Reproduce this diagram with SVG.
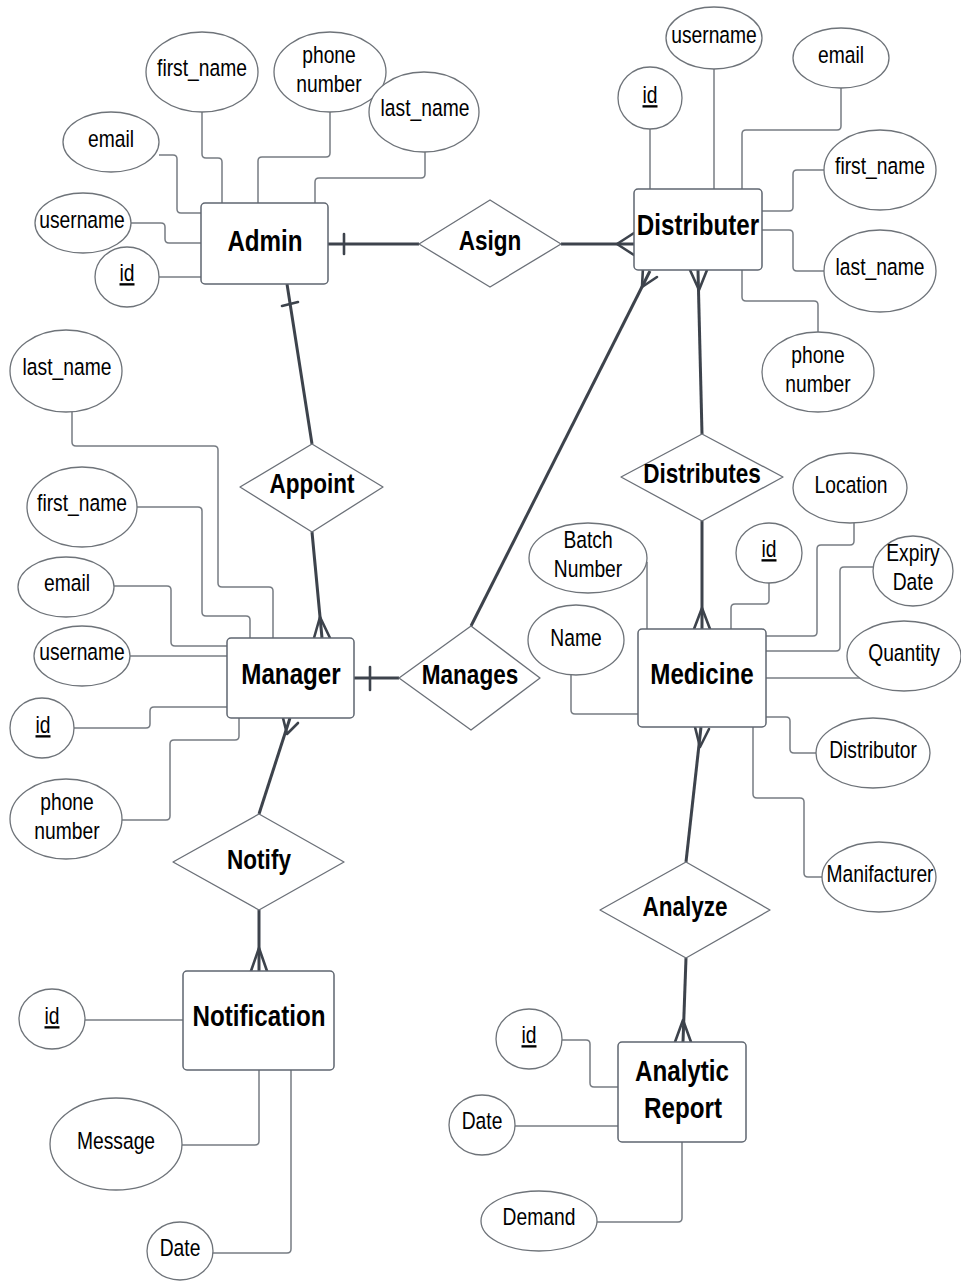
<svg xmlns="http://www.w3.org/2000/svg" width="961" height="1281" viewBox="0 0 961 1281">
  <style>
    .ent { fill: #ffffff; stroke: #5f6670; stroke-width: 1.5; }
    .rel { fill: #ffffff; stroke: #6b7078; stroke-width: 1.3; stroke-linejoin: round; }
    .att { fill: #ffffff; stroke: #6e7379; stroke-width: 1.3; }
    .aline { fill: none; stroke: #777c83; stroke-width: 1.5; }
    .rline { fill: none; stroke: #3d434c; stroke-width: 3; stroke-linecap: butt; }
    .foot { fill: none; stroke: #3d434c; stroke-width: 2.6; stroke-linecap: round; stroke-linejoin: round; }
    text { font-family: "Liberation Sans Narrow", "Liberation Sans", Arial, sans-serif; text-anchor: middle; fill: #000000; }
    .t { font-size: 23.5px; }
    .te { font-size: 29.5px; font-weight: bold; }
    .tr { font-size: 27.5px; font-weight: bold; }
    .key { text-decoration: underline; }
  </style>

  <!-- connectors -->
  <g id="connectors">
    <!-- attribute links: Admin -->
    <path class="aline" d="M159,155 H173 Q177,155 177,159 V209 Q177,213 181,213 H201"/>
    <path class="aline" d="M202,112 V154 Q202,158 206,158 H218 Q222,158 222,162 V203"/>
    <path class="aline" d="M330,112 V153 Q330,157 326,157 H262 Q258,157 258,161 V203"/>
    <path class="aline" d="M425,152 V174 Q425,178 421,178 H319 Q315,178 315,182 V203"/>
    <path class="aline" d="M130,223 H161 Q165,223 165,227 V239 Q165,243 169,243 H201"/>
    <path class="aline" d="M159,277 H201"/>
    <!-- attribute links: Distributer -->
    <path class="aline" d="M650,129 V189"/>
    <path class="aline" d="M714,69 V189"/>
    <path class="aline" d="M841,88 V126 Q841,130 837,130 H746 Q742,130 742,134 V189"/>
    <path class="aline" d="M824,170 H797 Q793,170 793,174 V207 Q793,211 789,211 H762"/>
    <path class="aline" d="M824,271 H797 Q793,271 793,267 V234 Q793,230 789,230 H762"/>
    <path class="aline" d="M818,332 V305 Q818,301 814,301 H746 Q742,301 742,297 V270"/>
    <!-- attribute links: Manager -->
    <path class="aline" d="M72,412 V442 Q72,446 76,446 H214 Q218,446 218,450 V583 Q218,587 222,587 H269 Q273,587 273,591 V638"/>
    <path class="aline" d="M137,507 H198 Q202,507 202,511 V612 Q202,616 206,616 H246 Q250,616 250,620 V638"/>
    <path class="aline" d="M114,586 H167 Q171,586 171,590 V642 Q171,646 175,646 H227"/>
    <path class="aline" d="M130,656 H227"/>
    <path class="aline" d="M74,728 H146 Q150,728 150,724 V711 Q150,707 154,707 H227"/>
    <path class="aline" d="M122,820 H166 Q170,820 170,816 V744 Q170,740 174,740 H235 Q239,740 239,736 V718"/>
    <!-- attribute links: Medicine -->
    <path class="aline" d="M647,562 V629"/>
    <path class="aline" d="M571,675 V710 Q571,714 575,714 H638"/>
    <path class="aline" d="M769,583 V600 Q769,604 765,604 H735 Q731,604 731,608 V629"/>
    <path class="aline" d="M854,523 V541 Q854,545 850,545 H821 Q817,545 817,549 V632 Q817,636 813,636 H766"/>
    <path class="aline" d="M873,567 H844 Q840,567 840,571 V647 Q840,651 836,651 H766"/>
    <path class="aline" d="M862,678 H766"/>
    <path class="aline" d="M766,717 H786 Q790,717 790,721 V749 Q790,753 794,753 H816"/>
    <path class="aline" d="M753,727 V794 Q753,798 757,798 H800 Q804,798 804,802 V873 Q804,877 808,877 H822"/>
    <!-- attribute links: Analytic Report -->
    <path class="aline" d="M562,1040 H586 Q590,1040 590,1044 V1083 Q590,1087 594,1087 H618"/>
    <path class="aline" d="M515,1126 H618"/>
    <path class="aline" d="M597,1222 H678 Q682,1222 682,1218 V1142"/>
    <!-- attribute links: Notification -->
    <path class="aline" d="M85,1020 H183"/>
    <path class="aline" d="M182,1145 H255 Q259,1145 259,1141 V1070"/>
    <path class="aline" d="M212,1253 H287 Q291,1253 291,1249 V1070"/>

    <!-- relationship links -->
    <!-- Admin - Asign (one) -->
    <path class="rline" d="M328,244 H419"/>
    <path class="foot" d="M344,234 V254"/>
    <!-- Asign - Distributer (many) -->
    <path class="rline" d="M561,244 H634"/>
    <path class="foot" d="M634,233 L617,244 L634,255"/>
    <!-- Admin - Appoint (one) -->
    <path class="rline" d="M287,284 L312,444"/>
    <path class="foot" d="M282,306 L298,302"/>
    <!-- Appoint - Manager (many) -->
    <path class="rline" d="M312,532 L322,638"/>
    <path class="foot" d="M314,638 L320,617 L330,638"/>
    <!-- Manager - Manages (one) -->
    <path class="rline" d="M354,678 H399"/>
    <path class="foot" d="M370,667 V690"/>
    <!-- Manages - Distributer (many) -->
    <path class="rline" d="M471,626 L650,271"/>
    <path class="foot" d="M643,267 L642,287 L657,277"/>
    <!-- Distributes - Distributer (many) -->
    <path class="rline" d="M702,434 L698,270"/>
    <path class="foot" d="M690,270 L699,290 L707,270"/>
    <!-- Distributes - Medicine (many) -->
    <path class="rline" d="M702,521 V629"/>
    <path class="foot" d="M694,629 L702,608 L710,629"/>
    <!-- Medicine - Analyze (many) -->
    <path class="rline" d="M686,862 L701,727"/>
    <path class="foot" d="M695,727 L700,747 L709,729"/>
    <!-- Analyze - Analytic Report (many) -->
    <path class="rline" d="M686,958 L683,1042"/>
    <path class="foot" d="M675,1042 L683,1020 L691,1042"/>
    <!-- Manager - Notify (many) -->
    <path class="rline" d="M259,814 L290,718"/>
    <path class="foot" d="M283,718 L287,734 L298,723"/>
    <!-- Notify - Notification (many) -->
    <path class="rline" d="M259,910 V971"/>
    <path class="foot" d="M251,971 L259,948 L267,971"/>
  </g>

  <!-- entities (labels set in a narrow face by horizontal scaling) -->
  <g id="admin">
    <rect class="ent" x="201" y="203" width="127" height="81" rx="4"/>
    <text class="te" transform="translate(265 251) scale(0.82 1)">Admin</text>
  </g>
  <g id="distributer">
    <rect class="ent" x="634" y="189" width="128" height="81" rx="4"/>
    <text class="te" transform="translate(698 235) scale(0.82 1)">Distributer</text>
  </g>
  <g id="manager">
    <rect class="ent" x="227" y="638" width="127" height="80" rx="4"/>
    <text class="te" transform="translate(291 684) scale(0.82 1)">Manager</text>
  </g>
  <g id="medicine">
    <rect class="ent" x="638" y="629" width="128" height="98" rx="4"/>
    <text class="te" transform="translate(702 684) scale(0.82 1)">Medicine</text>
  </g>
  <g id="notification">
    <rect class="ent" x="183" y="971" width="151" height="99" rx="4"/>
    <text class="te" transform="translate(259 1026) scale(0.82 1)">Notification</text>
  </g>
  <g id="analytic-report">
    <rect class="ent" x="618" y="1042" width="128" height="100" rx="4"/>
    <text class="te" transform="translate(682 1081) scale(0.82 1)">Analytic</text>
    <text class="te" transform="translate(683 1118) scale(0.82 1)">Report</text>
  </g>

  <!-- relationships -->
  <g id="asign">
    <polygon class="rel" points="419,244 490,200 561,244 490,287"/>
    <text class="tr" transform="translate(490 250) scale(0.82 1)">Asign</text>
  </g>
  <g id="appoint">
    <polygon class="rel" points="240,487 312,444 383,487 312,532"/>
    <text class="tr" transform="translate(312 493) scale(0.82 1)">Appoint</text>
  </g>
  <g id="manages">
    <polygon class="rel" points="399,678 471,626 540,678 471,730"/>
    <text class="tr" transform="translate(470 684) scale(0.82 1)">Manages</text>
  </g>
  <g id="distributes">
    <polygon class="rel" points="621,477 702,434 783,477 702,521"/>
    <text class="tr" transform="translate(702 483) scale(0.82 1)">Distributes</text>
  </g>
  <g id="notify">
    <polygon class="rel" points="173,862 259,814 344,862 259,910"/>
    <text class="tr" transform="translate(259 869) scale(0.82 1)">Notify</text>
  </g>
  <g id="analyze">
    <polygon class="rel" points="600,910 686,862 770,910 686,958"/>
    <text class="tr" transform="translate(685 916) scale(0.82 1)">Analyze</text>
  </g>

  <!-- Admin attributes -->
  <g id="admin-first-name">
    <ellipse class="att" cx="202" cy="72" rx="56" ry="40"/>
    <text class="t" transform="translate(202 76) scale(0.82 1)">first_name</text>
  </g>
  <g id="admin-phone">
    <ellipse class="att" cx="330" cy="72" rx="56" ry="40"/>
    <text class="t" transform="translate(329 63) scale(0.82 1)">phone</text>
    <text class="t" transform="translate(329 92) scale(0.82 1)">number</text>
  </g>
  <g id="admin-last-name">
    <ellipse class="att" cx="424" cy="112" rx="55" ry="40"/>
    <text class="t" transform="translate(425 116) scale(0.82 1)">last_name</text>
  </g>
  <g id="admin-email">
    <ellipse class="att" cx="111" cy="142" rx="48" ry="30"/>
    <text class="t" transform="translate(111 147) scale(0.82 1)">email</text>
  </g>
  <g id="admin-username">
    <ellipse class="att" cx="83" cy="223" rx="48" ry="30"/>
    <text class="t" transform="translate(82 228) scale(0.82 1)">username</text>
  </g>
  <g id="admin-id">
    <ellipse class="att" cx="127" cy="277" rx="32" ry="30"/>
    <text class="t key" transform="translate(127 281) scale(0.82 1)">id</text>
  </g>

  <!-- Distributer attributes -->
  <g id="distributer-id">
    <ellipse class="att" cx="650" cy="98" rx="32" ry="31"/>
    <text class="t key" transform="translate(650 103) scale(0.82 1)">id</text>
  </g>
  <g id="distributer-username">
    <ellipse class="att" cx="714" cy="38" rx="48" ry="31"/>
    <text class="t" transform="translate(714 43) scale(0.82 1)">username</text>
  </g>
  <g id="distributer-email">
    <ellipse class="att" cx="841" cy="58" rx="48" ry="30"/>
    <text class="t" transform="translate(841 63) scale(0.82 1)">email</text>
  </g>
  <g id="distributer-first-name">
    <ellipse class="att" cx="880" cy="170" rx="56" ry="40"/>
    <text class="t" transform="translate(880 174) scale(0.82 1)">first_name</text>
  </g>
  <g id="distributer-last-name">
    <ellipse class="att" cx="880" cy="271" rx="56" ry="41"/>
    <text class="t" transform="translate(880 275) scale(0.82 1)">last_name</text>
  </g>
  <g id="distributer-phone">
    <ellipse class="att" cx="818" cy="372" rx="56" ry="40"/>
    <text class="t" transform="translate(818 363) scale(0.82 1)">phone</text>
    <text class="t" transform="translate(818 392) scale(0.82 1)">number</text>
  </g>

  <!-- Manager attributes -->
  <g id="manager-last-name">
    <ellipse class="att" cx="66" cy="371" rx="56" ry="41"/>
    <text class="t" transform="translate(67 375) scale(0.82 1)">last_name</text>
  </g>
  <g id="manager-first-name">
    <ellipse class="att" cx="82" cy="507" rx="55" ry="40"/>
    <text class="t" transform="translate(82 511) scale(0.82 1)">first_name</text>
  </g>
  <g id="manager-email">
    <ellipse class="att" cx="66" cy="587" rx="48" ry="30"/>
    <text class="t" transform="translate(67 591) scale(0.82 1)">email</text>
  </g>
  <g id="manager-username">
    <ellipse class="att" cx="82" cy="656" rx="48" ry="30"/>
    <text class="t" transform="translate(82 660) scale(0.82 1)">username</text>
  </g>
  <g id="manager-id">
    <ellipse class="att" cx="42" cy="728" rx="32" ry="30"/>
    <text class="t key" transform="translate(43 733) scale(0.82 1)">id</text>
  </g>
  <g id="manager-phone">
    <ellipse class="att" cx="66" cy="819" rx="56" ry="40"/>
    <text class="t" transform="translate(67 810) scale(0.82 1)">phone</text>
    <text class="t" transform="translate(67 839) scale(0.82 1)">number</text>
  </g>

  <!-- Medicine attributes -->
  <g id="medicine-batch">
    <ellipse class="att" cx="588" cy="558" rx="59" ry="35"/>
    <text class="t" transform="translate(588 548) scale(0.82 1)">Batch</text>
    <text class="t" transform="translate(588 577) scale(0.82 1)">Number</text>
  </g>
  <g id="medicine-name">
    <ellipse class="att" cx="576" cy="640" rx="48" ry="35"/>
    <text class="t" transform="translate(576 646) scale(0.82 1)">Name</text>
  </g>
  <g id="medicine-id">
    <ellipse class="att" cx="769" cy="553" rx="33" ry="30"/>
    <text class="t key" transform="translate(769 557) scale(0.82 1)">id</text>
  </g>
  <g id="medicine-location">
    <ellipse class="att" cx="850" cy="488" rx="57" ry="35"/>
    <text class="t" transform="translate(851 493) scale(0.82 1)">Location</text>
  </g>
  <g id="medicine-expiry">
    <ellipse class="att" cx="913" cy="571" rx="40" ry="35"/>
    <text class="t" transform="translate(913 561) scale(0.82 1)">Expiry</text>
    <text class="t" transform="translate(913 590) scale(0.82 1)">Date</text>
  </g>
  <g id="medicine-quantity">
    <ellipse class="att" cx="904" cy="656" rx="57" ry="35"/>
    <text class="t" transform="translate(904 661) scale(0.82 1)">Quantity</text>
  </g>
  <g id="medicine-distributor">
    <ellipse class="att" cx="873" cy="753" rx="57" ry="35"/>
    <text class="t" transform="translate(873 758) scale(0.82 1)">Distributor</text>
  </g>
  <g id="medicine-manufacturer">
    <ellipse class="att" cx="879" cy="877" rx="57" ry="35"/>
    <text class="t" transform="translate(880 882) scale(0.82 1)">Manifacturer</text>
  </g>

  <!-- Analytic Report attributes -->
  <g id="report-id">
    <ellipse class="att" cx="529" cy="1039" rx="33" ry="30"/>
    <text class="t key" transform="translate(529 1043) scale(0.82 1)">id</text>
  </g>
  <g id="report-date">
    <ellipse class="att" cx="482" cy="1125" rx="33" ry="30"/>
    <text class="t" transform="translate(482 1129) scale(0.82 1)">Date</text>
  </g>
  <g id="report-demand">
    <ellipse class="att" cx="539" cy="1221" rx="58" ry="30"/>
    <text class="t" transform="translate(539 1225) scale(0.82 1)">Demand</text>
  </g>

  <!-- Notification attributes -->
  <g id="notification-id">
    <ellipse class="att" cx="52" cy="1019" rx="33" ry="30"/>
    <text class="t key" transform="translate(52 1024) scale(0.82 1)">id</text>
  </g>
  <g id="notification-message">
    <ellipse class="att" cx="116" cy="1144" rx="66" ry="46"/>
    <text class="t" transform="translate(116 1149) scale(0.82 1)">Message</text>
  </g>
  <g id="notification-date">
    <ellipse class="att" cx="180" cy="1251" rx="33" ry="29"/>
    <text class="t" transform="translate(180 1256) scale(0.82 1)">Date</text>
  </g>
</svg>
